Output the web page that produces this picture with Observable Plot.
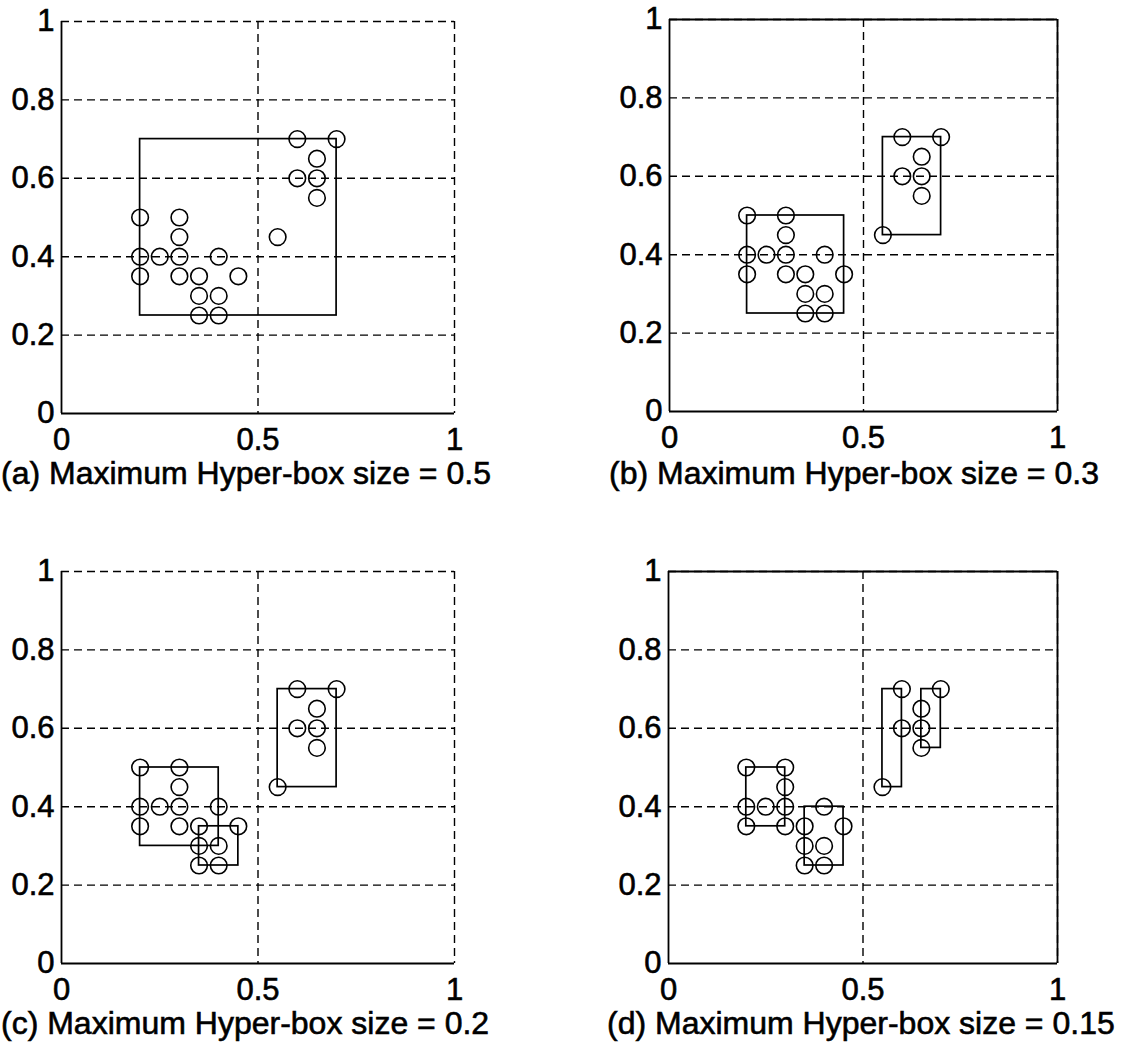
<!DOCTYPE html>
<html>
<head>
<meta charset="utf-8">
<script src="https://cdn.jsdelivr.net/npm/d3@7"></script>
<script src="https://cdn.jsdelivr.net/npm/@observablehq/plot@0.6"></script>
<style>
  html, body { margin: 0; padding: 0; background: #fff; }
  #root { position: relative; width: 1128px; height: 1052px; background: #fff; font-family: "Liberation Sans", Arial, sans-serif; color: #000; }
  .panel { position: absolute; }
  .caption { position: absolute; font-size: 32px; line-height: 36px; white-space: nowrap; color: #000; -webkit-text-stroke: 0.6px #000; }
  .panel svg text { stroke: #000; stroke-width: 0.6px; }
</style>
</head>
<body>
<div id="root"></div>
<script>
// ---- data ----
const pointX = [0.6, 0.7, 0.65, 0.6, 0.65, 0.65, 0.2, 0.3, 0.3, 0.55, 0.2, 0.25, 0.3, 0.4, 0.2, 0.3, 0.35, 0.45, 0.35, 0.4, 0.35, 0.4];
const pointY = [0.7, 0.7, 0.65, 0.6, 0.6, 0.55, 0.5, 0.5, 0.45, 0.45, 0.4, 0.4, 0.4, 0.4, 0.35, 0.35, 0.35, 0.35, 0.3, 0.3, 0.25, 0.25];

const boxesA_x1 = [0.2],  boxesA_y1 = [0.25], boxesA_x2 = [0.7],  boxesA_y2 = [0.7];
const boxesB_x1 = [0.2, 0.55], boxesB_y1 = [0.25, 0.45], boxesB_x2 = [0.45, 0.7], boxesB_y2 = [0.5, 0.7];
const boxesC_x1 = [0.2, 0.35, 0.55], boxesC_y1 = [0.3, 0.25, 0.45], boxesC_x2 = [0.4, 0.45, 0.7], boxesC_y2 = [0.5, 0.35, 0.7];
const boxesD_x1 = [0.2, 0.35, 0.55, 0.65], boxesD_y1 = [0.35, 0.25, 0.45, 0.55], boxesD_x2 = [0.3, 0.45, 0.6, 0.7], boxesD_y2 = [0.5, 0.4, 0.7, 0.7];

const xTicks = [0, 0.5, 1];
const yTicks = [0, 0.2, 0.4, 0.6, 0.8, 1];
const captions = [
  "(a) Maximum Hyper-box size = 0.5",
  "(b) Maximum Hyper-box size = 0.3",
  "(c) Maximum Hyper-box size = 0.2",
  "(d) Maximum Hyper-box size = 0.15"
];

const points = pointX.map((x, i) => ({x, y: pointY[i]}));
function boxTable(x1, y1, x2, y2) {
  return x1.map((_, i) => ({x1: x1[i], y1: y1[i], x2: x2[i], y2: y2[i]}));
}

function panel(boxes, boxed, frameW) {
  const mL = 61, mT = 21, mR = 30, mB = 50;
  const frameH = 392;
  const gridStyle = {stroke: "black", strokeOpacity: 1, strokeWidth: 1.4, strokeDasharray: "8,5"};
  return Plot.plot({
    width: mL + frameW + mR,
    height: mT + frameH + mB,
    marginLeft: mL, marginTop: mT, marginRight: mR, marginBottom: mB,
    x: {type: "linear", domain: [0, 1]},
    y: {type: "linear", domain: [0, 1]},
    style: {fontFamily: "'Liberation Sans', Arial, sans-serif", fontSize: "31px", color: "black", background: "transparent", overflow: "visible"},
    marks: [
      Plot.gridX(xTicks.filter(d => d > 0), gridStyle),
      Plot.gridY(yTicks.filter(d => d > 0), gridStyle),
      Plot.axisX(xTicks, {tickSize: 0, tickPadding: 14, tickFormat: d => String(d), fontSize: 31, label: null}),
      Plot.axisY(yTicks, {tickSize: 0, tickPadding: 7, tickFormat: d => String(d), fontSize: 31, label: null}),
      Plot.ruleX([0], {stroke: "black", strokeWidth: 1.8}),
      Plot.ruleY([0], {stroke: "black", strokeWidth: 1.8}),
      boxed ? Plot.ruleX([1], {stroke: "black", strokeWidth: 1.8}) : null,
      boxed ? Plot.ruleY([1], {stroke: "black", strokeWidth: 1.8}) : null,
      Plot.rect(boxes, {x1: "x1", y1: "y1", x2: "x2", y2: "y2", fill: "none", stroke: "black", strokeWidth: 1.7}),
      Plot.dot(points, {x: "x", y: "y", r: 8.3, stroke: "black", strokeWidth: 1.6, fill: "none"})
    ]
  });
}

const root = document.getElementById("root");
const specs = [
  {boxes: boxTable(boxesA_x1, boxesA_y1, boxesA_x2, boxesA_y2), boxed: false, left: 0,   top: 0,   frameW: 393, capLeft: 1,   capTop: 455},
  {boxes: boxTable(boxesB_x1, boxesB_y1, boxesB_x2, boxesB_y2), boxed: true,  left: 608, top: -2,  frameW: 388, capLeft: 609, capTop: 455},
  {boxes: boxTable(boxesC_x1, boxesC_y1, boxesC_x2, boxesC_y2), boxed: false, left: 0,   top: 550, frameW: 393, capLeft: 1,   capTop: 1005},
  {boxes: boxTable(boxesD_x1, boxesD_y1, boxesD_x2, boxesD_y2), boxed: true,  left: 607, top: 550, frameW: 389, capLeft: 607, capTop: 1005}
];
specs.forEach((s, i) => {
  const wrap = document.createElement("div");
  wrap.className = "panel";
  wrap.style.left = s.left + "px";
  wrap.style.top = s.top + "px";
  wrap.appendChild(panel(s.boxes, s.boxed, s.frameW));
  root.appendChild(wrap);
  const cap = document.createElement("div");
  cap.className = "caption";
  cap.style.left = s.capLeft + "px";
  cap.style.top = s.capTop + "px";
  cap.textContent = captions[i];
  root.appendChild(cap);
});
</script>
</body>
</html>
